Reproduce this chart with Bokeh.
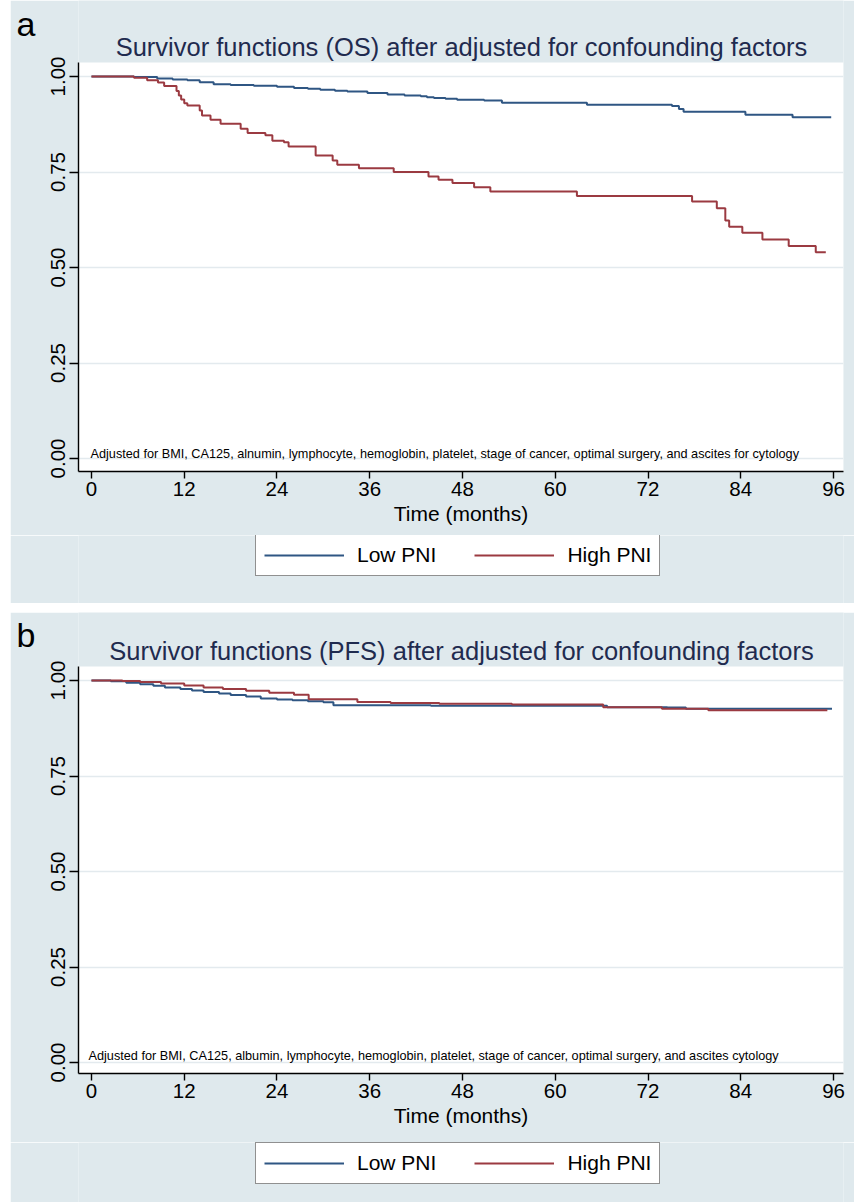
from bokeh.plotting import figure
from bokeh.models import (Range1d, FixedTicker, Legend, LegendItem, Label,
                          PrintfTickFormatter, BoxAnnotation, LinearAxis, Spacer)
from bokeh.layouts import column, row
from bokeh.embed import file_html
from bokeh.resources import INLINE

# ---------------- data ----------------
x_ticks = [0, 12, 24, 36, 48, 60, 72, 84, 96]
x_tick_labels = ["0", "12", "24", "36", "48", "60", "72", "84", "96"]
y_ticks = [0.0, 0.25, 0.5, 0.75, 1.0]
y_tick_labels = ["0.00", "0.25", "0.50", "0.75", "1.00"]
group_names = ["Low PNI", "High PNI"]
x_axis_title = "Time (months)"

os_title = "Survivor functions (OS) after adjusted for confounding factors"
os_note = ("Adjusted for BMI, CA125, alnumin, lymphocyte, hemoglobin, platelet, "
           "stage of cancer, optimal surgery, and ascites for cytology")
pfs_title = "Survivor functions (PFS) after adjusted for confounding factors"
pfs_note = ("Adjusted for BMI, CA125, albumin, lymphocyte, hemoglobin, platelet, "
            "stage of cancer, optimal surgery, and ascites cytology")

os_low_months = [0, 5.5, 8.5, 10.5, 12.4, 14.0, 15.8, 18.0, 21.0, 24.0,
                 26.2, 28.0, 29.6, 31.5, 33.1, 35.7, 38.3, 40.5, 42.6, 43.4,
                 44.3, 45.8, 47.3, 50.8, 53.1, 64.1, 75.1, 76.0, 76.6, 84.6,
                 90.7, 95.7]
os_low_surv = [1.000, 0.999, 0.995, 0.992, 0.990, 0.985, 0.980, 0.978, 0.976, 0.973,
               0.970, 0.968, 0.965, 0.963, 0.961, 0.957, 0.953, 0.950, 0.948, 0.946,
               0.944, 0.942, 0.939, 0.937, 0.931, 0.926, 0.923, 0.915, 0.908, 0.900,
               0.893, 0.893]

os_high_months = [0, 5.5, 7.2, 8.6, 9.4, 11.0, 11.3, 11.6, 12.0, 12.4,
                  14.0, 14.3, 15.4, 16.7, 19.3, 20.2, 22.5, 23.4, 24.9, 25.5,
                  29.0, 31.2, 31.8, 34.6, 39.1, 43.6, 44.9, 46.7, 49.5, 51.6,
                  62.8, 77.7, 80.9, 82.0, 82.5, 84.2, 86.8, 90.2, 93.7, 95.0]
os_high_surv = [1.000, 0.997, 0.990, 0.984, 0.975, 0.962, 0.950, 0.940, 0.930, 0.924,
                0.911, 0.898, 0.887, 0.876, 0.863, 0.852, 0.846, 0.832, 0.828, 0.817,
                0.793, 0.780, 0.769, 0.760, 0.750, 0.738, 0.730, 0.721, 0.710, 0.699,
                0.687, 0.673, 0.655, 0.623, 0.607, 0.591, 0.573, 0.556, 0.540, 0.540]

pfs_low_months = [0, 2.5, 4.5, 6.3, 8.0, 9.5, 11.5, 13.0, 14.5, 16.5,
                  18.0, 20.0, 21.9, 24.0, 26.0, 28.0, 30.0, 31.3, 43.9, 66.7,
                  74.5, 76.9, 95.8]
pfs_low_surv = [1.000, 0.998, 0.994, 0.990, 0.986, 0.982, 0.978, 0.974, 0.970, 0.966,
                0.962, 0.958, 0.953, 0.950, 0.948, 0.946, 0.943, 0.935, 0.934, 0.930,
                0.929, 0.926, 0.926]

pfs_high_months = [0, 4.0, 6.3, 9.0, 12.0, 14.5, 17.0, 20.0, 23.0, 26.2,
                   28.1, 34.4, 38.7, 45.0, 54.4, 66.2, 73.8, 79.8, 95.2]
pfs_high_surv = [1.000, 0.999, 0.996, 0.992, 0.987, 0.982, 0.978, 0.973, 0.968, 0.963,
                 0.951, 0.944, 0.941, 0.939, 0.937, 0.930, 0.926, 0.922, 0.922]

# ---------------- style / geometry (pixels inside each panel) ----------------
W = 844
FL, FR = 68, 833            # plot frame left/right
PX_PER_UNIT = 382.0         # pixels per survival unit
X_START, X_END = -1.68, 97.29
BG = "#dfe9ed"
GRID = "#e3eaee"
BLUE = "#2f5683"
RED = "#9b3a41"
TITLE_C = "#1f2b4f"
FONT = "Liberation Sans"
NAN = float("nan")


def make_main(letter, title, note, low_t, low_s, high_t, high_s,
              height, fbot, one_px, white_top_px, title_base, letter_mid,
              note_left, note_mid):
    y_end = 1 + one_px / PX_PER_UNIT
    y_start = 1 - (fbot - one_px) / PX_PER_UNIT

    def dx(px):
        return X_START + (px - FL) * (X_END - X_START) / (FR - FL)

    def dy(py):
        return y_end - py * (y_end - y_start) / fbot

    white_top = dy(white_top_px)

    p = figure(width=W, height=height,
               x_range=Range1d(X_START, X_END), y_range=Range1d(y_start, y_end),
               output_backend="svg", toolbar_location=None,
               min_border_left=FL, min_border_right=W - FR,
               min_border_top=0, min_border_bottom=height - fbot)
    p.background_fill_color = BG
    p.border_fill_color = BG
    p.outline_line_color = None

    # white plot region
    p.add_layout(BoxAnnotation(top=white_top, fill_color="white", fill_alpha=1.0,
                               line_color=None, level="image"))

    # grid
    p.xgrid.visible = False
    p.ygrid.ticker = FixedTicker(ticks=y_ticks)
    p.ygrid.grid_line_color = GRID
    p.ygrid.grid_line_width = 1.3

    # axes
    p.xaxis.ticker = FixedTicker(ticks=x_ticks)
    p.xaxis.major_label_overrides = {t: l for t, l in zip(x_ticks, x_tick_labels)}
    p.yaxis.ticker = FixedTicker(ticks=y_ticks)
    p.yaxis.formatter = PrintfTickFormatter(format="%.2f")
    p.yaxis.major_label_overrides = {t: l for t, l in zip(y_ticks, y_tick_labels)}
    p.yaxis.major_label_orientation = "vertical"
    p.yaxis.bounds = (y_start, white_top)
    for ax in (p.xaxis, p.yaxis):
        ax.axis_line_color = "black"
        ax.axis_line_width = 1.4
        ax.major_tick_line_color = "black"
        ax.major_tick_line_width = 1.4
        ax.major_tick_in = 0
        ax.minor_tick_line_color = None
        ax.major_label_text_font = FONT
        ax.major_label_text_font_size = "20.5px"
        ax.major_label_text_color = "black"
    p.xaxis.major_tick_out = 7
    p.xaxis.major_label_standoff = 3
    p.yaxis.major_tick_out = 9
    p.yaxis.major_label_standoff = 5
    p.xaxis.axis_label = x_axis_title
    p.xaxis.axis_label_text_font = FONT
    p.xaxis.axis_label_text_font_size = "21px"
    p.xaxis.axis_label_text_font_style = "normal"
    p.xaxis.axis_label_text_color = "black"
    p.xaxis.axis_label_standoff = 3

    # panel letter, shown as the only label of an extra outer left axis
    ly = round(dy(letter_mid), 4)
    letter_axis = LinearAxis(ticker=FixedTicker(ticks=[ly]),
                             major_label_overrides={ly: letter},
                             axis_line_color=None, major_tick_line_color=None,
                             minor_tick_line_color=None,
                             major_tick_out=0, major_tick_in=0,
                             major_label_standoff=12,
                             major_label_orientation="horizontal",
                             major_label_text_font=FONT,
                             major_label_text_font_size="34px",
                             major_label_text_color="black")
    p.add_layout(letter_axis, "left")

    p.step(low_t, low_s, mode="after", line_color=BLUE, line_width=2)
    p.step(high_t, high_s, mode="after", line_color=RED, line_width=2)

    p.add_layout(Label(x=dx(451), y=dy(title_base), text=title,
                       text_align="center", text_baseline="alphabetic",
                       text_font=FONT, text_font_size="25.5px", text_color=TITLE_C))
    p.add_layout(Label(x=dx(note_left), y=dy(note_mid), text=note,
                       text_align="left", text_baseline="middle",
                       text_font=FONT, text_font_size="12.7px", text_color="black"))
    return p


def make_footer(height, legend_left, legend_bottom):
    f = figure(width=W, height=height, x_range=Range1d(0, 1), y_range=Range1d(0, 1),
               x_axis_type=None, y_axis_type=None,
               output_backend="svg", toolbar_location=None, min_border=0)
    f.background_fill_color = BG
    f.border_fill_color = BG
    f.outline_line_color = None
    # legend samples only (no visible data in this strip)
    r_low = f.line(x=[NAN], y=[NAN], line_color=BLUE, line_width=2)
    r_high = f.line(x=[NAN], y=[NAN], line_color=RED, line_width=2)
    legend = Legend(items=[LegendItem(label=group_names[0], renderers=[r_low]),
                           LegendItem(label=group_names[1], renderers=[r_high])],
                    location=(legend_left, legend_bottom), orientation="horizontal",
                    glyph_width=80, glyph_height=20, label_standoff=13,
                    spacing=38, padding=8, margin=0,
                    label_text_font=FONT, label_text_font_size="21px",
                    label_text_color="black",
                    border_line_color="#222222", border_line_width=1.3,
                    background_fill_color="white", background_fill_alpha=1.0)
    f.add_layout(legend)
    return f


main_a = make_main("a", os_title, os_note, os_low_months, os_low_surv,
                   os_high_months, os_high_surv,
                   height=535, fbot=471, one_px=76, white_top_px=62,
                   title_base=46, letter_mid=23, note_left=80, note_mid=453)
foot_a = make_footer(68, 177, 27)
main_b = make_main("b", pfs_title, pfs_note, pfs_low_months, pfs_low_surv,
                   pfs_high_months, pfs_high_surv,
                   height=530, fbot=461, one_px=68, white_top_px=54,
                   title_base=38, letter_mid=22, note_left=78, note_mid=443)
foot_b = make_footer(60, 177, 18)

layout = row(Spacer(width=10),
             column(main_a, foot_a, Spacer(height=9), main_b, foot_b))
open("out.html", "w").write(file_html(layout, INLINE))
